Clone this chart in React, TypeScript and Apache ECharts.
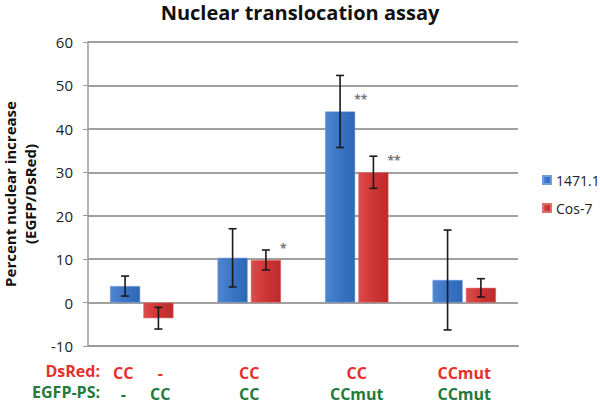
import React, { useEffect, useRef } from "react";
import * as echarts from "echarts";

const categories = ["g1", "g2", "g3", "g4"];
const dsRedLabels: string[][] = [["CC", "-"], ["CC"], ["CC"], ["CCmut"]];
const egfpLabels: string[][] = [["-", "CC"], ["CC"], ["CCmut"], ["CCmut"]];
const seriesNames = ["1471.1", "Cos-7"];
const values1471 = [3.8, 10.3, 44.0, 5.2];
const errors1471 = [2.3, 6.7, 8.3, 11.5];
const signif1471 = ["", "", "**", ""];
const valuesCos7 = [-3.6, 9.8, 30.0, 3.4];
const errorsCos7 = [2.5, 2.3, 3.7, 2.1];
const signifCos7 = ["", "*", "**", ""];
const yTicks = { min: -10, max: 60, interval: 10 };

const BAR_FRAC = 0.28;
const GAP_FRAC = 0.03;
const FONT = "'Open Sans', 'Liberation Sans', sans-serif";
const RED_TXT = "#e5302b";
const GREEN_TXT = "#237a3b";

function errorSeries(values: number[], errs: number[], sig: string[], side: number) {
  return {
    type: "custom",
    silent: true,
    z: 10,
    data: values.map((v, i) => [i, v, errs[i]]),
    renderItem: (params: any, api: any) => {
      const idx = api.value(0);
      const v = api.value(1);
      const e = api.value(2);
      const band = api.size([1, 0])[0];
      const barW = band * BAR_FRAC;
      const off = side * (barW / 2 + (band * GAP_FRAC) / 2);
      const top = api.coord([idx, v + e]);
      const bot = api.coord([idx, v - e]);
      const barTop = api.coord([idx, v]);
      const x = top[0] + off;
      const cap = 4;
      const st = { stroke: "#1a1a1a", lineWidth: 1.6 };
      const children: any[] = [
        { type: "line", shape: { x1: x, y1: top[1], x2: x, y2: bot[1] }, style: st },
        { type: "line", shape: { x1: x - cap, y1: top[1], x2: x + cap, y2: top[1] }, style: st },
        { type: "line", shape: { x1: x - cap, y1: bot[1], x2: x + cap, y2: bot[1] }, style: st },
      ];
      const s = sig[params.dataIndex];
      if (s) {
        children.push({
          type: "text",
          style: {
            text: s,
            x: x + barW / 2 - 1,
            y: barTop[1] - 12,
            fill: "#777",
            font: `bold 12px ${FONT}`,
            align: "left",
            verticalAlign: "middle",
          },
        });
      }
      return { type: "group", children };
    },
  };
}

export default function App() {
  const ref = useRef<HTMLDivElement>(null);
  useEffect(() => {
    if (!ref.current) return;
    const chart = echarts.init(ref.current, null, { renderer: "svg" });
    const blue = new echarts.graphic.LinearGradient(0, 0, 1, 0, [
      { offset: 0, color: "#4f86d0" },
      { offset: 0.5, color: "#3a74c4" },
      { offset: 1, color: "#2f67b6" },
    ]);
    const red = new echarts.graphic.LinearGradient(0, 0, 1, 0, [
      { offset: 0, color: "#dc4b4b" },
      { offset: 0.5, color: "#cf3535" },
      { offset: 1, color: "#bd2a2a" },
    ]);
    const base = { fontSize: 16, fontWeight: "bold", fontFamily: FONT, lineHeight: 21 };
    const rich: any = {
      r: { ...base, color: RED_TXT },
      g: { ...base, color: GREEN_TXT },
      rw: { ...base, color: RED_TXT, width: 37, align: "center" },
      gw: { ...base, color: GREEN_TXT, width: 37, align: "center" },
    };
    const fmtRow = (parts: string[], key: string) =>
      parts.length > 1 ? parts.map((p) => `{${key}w|${p}}`).join("") : `{${key}|${parts[0]}}`;

    chart.setOption({
      animation: false,
      title: {
        text: "Nuclear translocation assay",
        left: "center",
        top: -3,
        textStyle: { fontFamily: FONT, fontSize: 20, fontWeight: "bold", color: "#111" },
      },
      legend: {
        orient: "vertical",
        left: 537,
        top: 168,
        itemWidth: 8,
        itemHeight: 8,
        itemGap: 14,
        icon: "rect",
        textStyle: { fontFamily: FONT, fontSize: 14, color: "#222" },
        data: seriesNames,
      },
      grid: { left: 88, right: 82, top: 42, bottom: 60, outerBoundsMode: "none", containLabel: false },
      xAxis: {
        type: "category",
        data: categories,
        axisLine: { onZero: false, lineStyle: { color: "#9a9a9a", width: 2 } },
        axisTick: { show: false },
        axisLabel: {
          margin: 16,
          formatter: (_: string, i: number) => `${fmtRow(dsRedLabels[i], "r")}\n${fmtRow(egfpLabels[i], "g")}`,
          rich,
        },
      },
      yAxis: {
        type: "value",
        min: yTicks.min,
        max: yTicks.max,
        interval: yTicks.interval,
        name: "Percent nuclear increase\n(EGFP/DsRed)",
        nameLocation: "middle",
        nameGap: 41,
        nameTextStyle: { fontFamily: FONT, fontSize: 15, fontWeight: "bold", color: "#111", lineHeight: 20 },
        axisLine: { show: true, lineStyle: { color: "#9a9a9a", width: 1.5 } },
        axisTick: { show: true, length: 5, lineStyle: { color: "#9a9a9a" } },
        axisLabel: { fontFamily: FONT, fontSize: 15, color: "#222", margin: 15 },
        splitLine: { lineStyle: { color: "#a0a0a0", width: 2 } },
      },
      graphic: [
        {
          type: "text",
          right: 500,
          top: 363,
          style: { text: "DsRed:", fill: RED_TXT, font: `bold 16px ${FONT}` },
        },
        {
          type: "text",
          right: 500,
          top: 384,
          style: { text: "EGFP-PS:", fill: GREEN_TXT, font: `bold 16px ${FONT}` },
        },
      ],
      series: [
        {
          name: seriesNames[0],
          type: "bar",
          data: values1471,
          barWidth: `${BAR_FRAC * 100}%`,
          barGap: `${(GAP_FRAC / BAR_FRAC) * 100}%`,
          itemStyle: { color: blue, borderColor: "#6f9fe0", borderWidth: 0.5 },
        },
        {
          name: seriesNames[1],
          type: "bar",
          data: valuesCos7,
          barWidth: `${BAR_FRAC * 100}%`,
          barGap: `${(GAP_FRAC / BAR_FRAC) * 100}%`,
          itemStyle: { color: red, borderColor: "#e07070", borderWidth: 0.5 },
        },
        errorSeries(values1471, errors1471, signif1471, -1),
        errorSeries(valuesCos7, errorsCos7, signifCos7, 1),
      ],
    });
    return () => chart.dispose();
  }, []);
  return <div ref={ref} style={{ width: 600, height: 406, position: "absolute", left: 0, top: 0 }} />;
}
